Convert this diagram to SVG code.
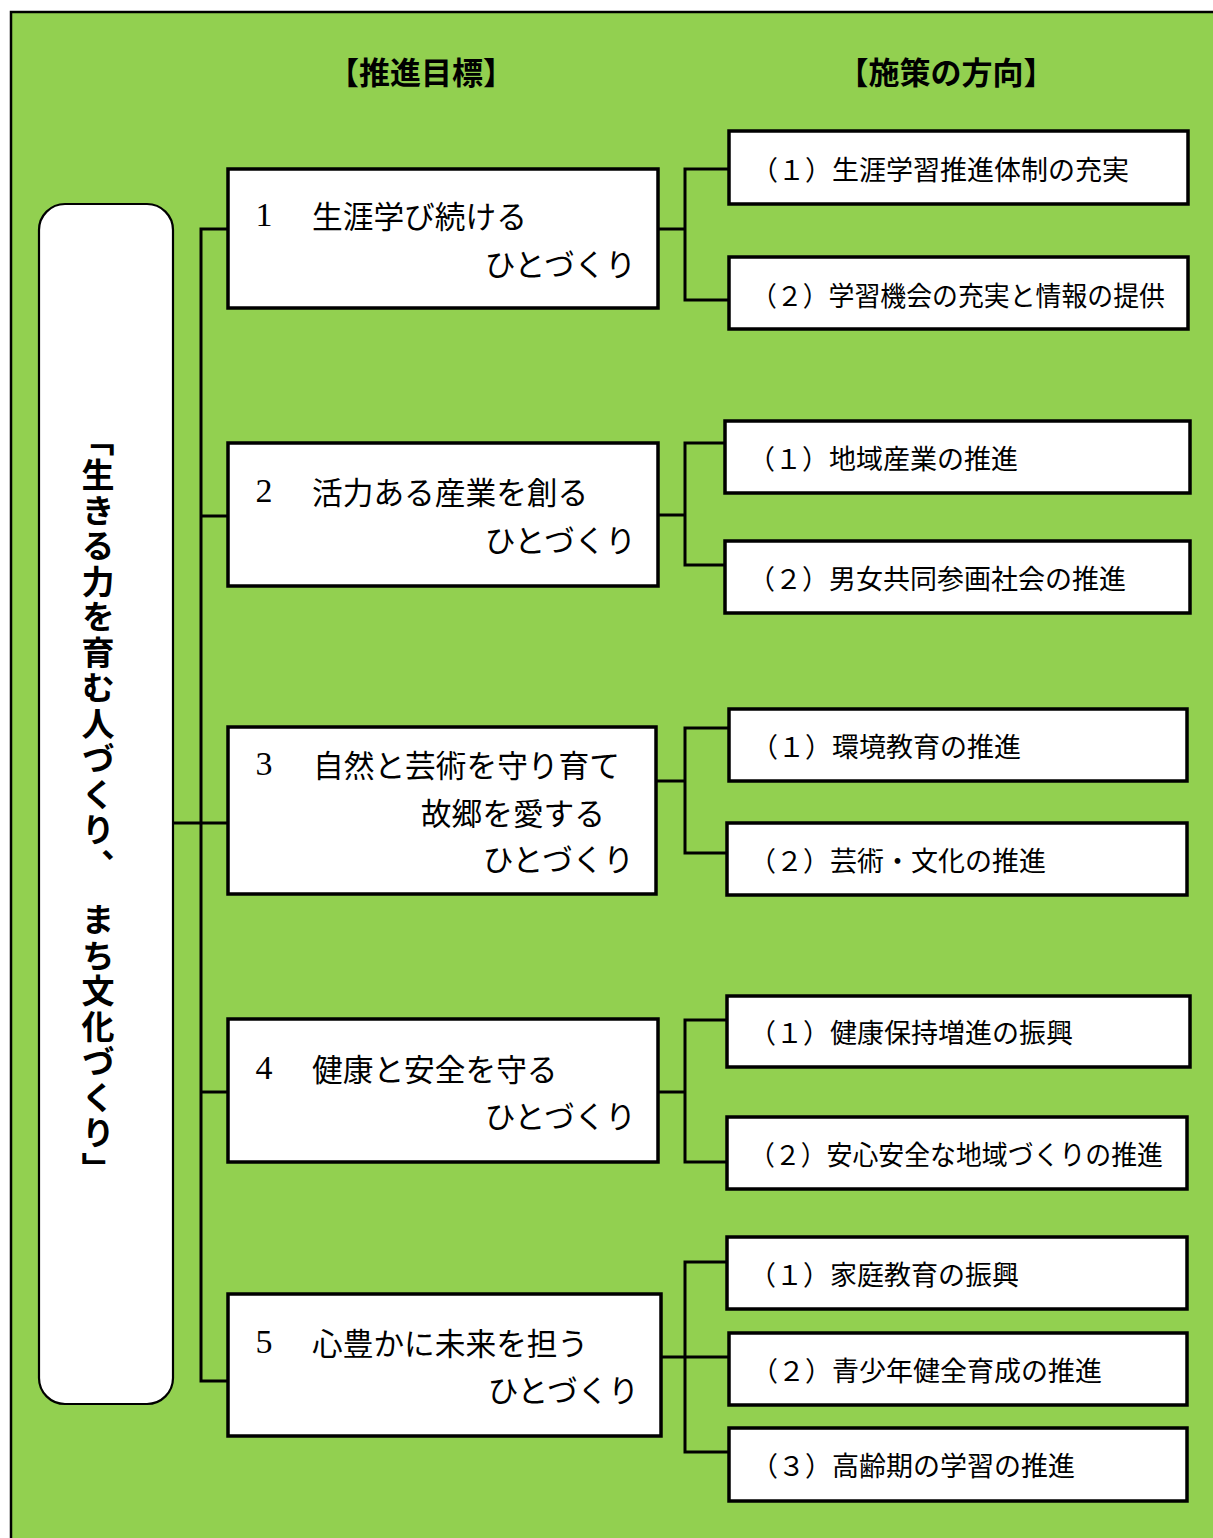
<svg xmlns="http://www.w3.org/2000/svg" width="1213" height="1538" viewBox="0 0 1213 1538">
<style>
.box{fill:#fff;stroke:#000;stroke-width:3.5}
.ln{fill:none;stroke:#000;stroke-width:3;stroke-linecap:square}
.jp{font-family:"Noto Sans CJK JP","Noto Sans CJK SC",sans-serif;fill:#000;dominant-baseline:central}
.goal{font-size:30.7px}
.pol{font-size:27px}
.num{font-family:"Liberation Serif",serif;font-size:34px;text-anchor:middle;dominant-baseline:central}
.hd{font-size:31px;font-weight:bold;text-anchor:middle}
</style>
<rect x="0" y="0" width="1213" height="1538" fill="#fff"/>
<rect x="11" y="12" width="1230" height="1560" fill="#92D050" stroke="#000" stroke-width="2.5"/>
<text class="jp hd" x="421" y="70">【推進目標】</text>
<text class="jp hd" x="946" y="70">【施策の方向】</text>
<g id="connectors">
<path class="ln" d="M201 229 V1381 M201 229 H228 M201 516 H228 M201 1092 H228 M201 1381 H228 M173 823 H228"/>
<path class="ln" d="M658 229 H685 M685 169 V300 M685 169 H729 M685 300 H729"/>
<path class="ln" d="M658 515 H685 M685 443 V565 M685 443 H725 M685 565 H725"/>
<path class="ln" d="M656 781 H685 M685 728 V853 M685 728 H729 M685 853 H727"/>
<path class="ln" d="M658 1092 H685 M685 1020 V1162 M685 1020 H727 M685 1162 H727"/>
<path class="ln" d="M661 1357 H729 M685 1262 V1452 M685 1262 H727 M685 1452 H729"/>
</g>
<g id="root">
<rect x="39" y="204" width="134" height="1200" rx="26" ry="26" fill="#fff" stroke="#000" stroke-width="2.2"/>
<text x="98" y="805" style="writing-mode:vertical-rl;letter-spacing:2.5px" text-anchor="middle" font-family="Noto Sans CJK JP, sans-serif" font-weight="bold" font-size="33">「生きる力を育む人づくり、　まち文化づくり」</text>
</g>
<g id="goal1">
<rect class="box" x="228" y="169" width="430" height="139"/>
<text class="num" x="264" y="214">1</text>
<text class="jp goal" x="312" y="214">生涯学び続ける</text>
<text class="jp goal" x="636" y="262" text-anchor="end">ひとづくり</text>
</g>
<g id="goal2">
<rect class="box" x="228" y="443" width="430" height="143"/>
<text class="num" x="264" y="490">2</text>
<text class="jp goal" x="312" y="490">活力ある産業を創る</text>
<text class="jp goal" x="636" y="538" text-anchor="end">ひとづくり</text>
</g>
<g id="goal3">
<rect class="box" x="228" y="727" width="428" height="167"/>
<text class="num" x="264" y="763">3</text>
<text class="jp goal" x="313" y="763">自然と芸術を守り育て</text>
<text class="jp goal" x="605" y="811" text-anchor="end">故郷を愛する</text>
<text class="jp goal" x="634" y="857" text-anchor="end">ひとづくり</text>
</g>
<g id="goal4">
<rect class="box" x="228" y="1019" width="430" height="143"/>
<text class="num" x="264" y="1067">4</text>
<text class="jp goal" x="312" y="1067">健康と安全を守る</text>
<text class="jp goal" x="636" y="1114" text-anchor="end">ひとづくり</text>
</g>
<g id="goal5">
<rect class="box" x="228" y="1294" width="433" height="142"/>
<text class="num" x="264" y="1341">5</text>
<text class="jp goal" x="312" y="1341">心豊かに未来を担う</text>
<text class="jp goal" x="639" y="1388" text-anchor="end">ひとづくり</text>
</g>
<g id="p1-1"><rect class="box" x="729" y="131" width="459" height="73"/><text class="jp pol" x="751" y="168">（１）生涯学習推進体制の充実</text></g>
<g id="p1-2"><rect class="box" x="729" y="257" width="459" height="72"/><text class="jp pol" x="751" y="294" textLength="414" lengthAdjust="spacingAndGlyphs">（２）学習機会の充実と情報の提供</text></g>
<g id="p2-1"><rect class="box" x="725" y="421" width="465" height="72"/><text class="jp pol" x="748" y="457">（１）地域産業の推進</text></g>
<g id="p2-2"><rect class="box" x="725" y="541" width="465" height="72"/><text class="jp pol" x="748" y="577">（２）男女共同参画社会の推進</text></g>
<g id="p3-1"><rect class="box" x="729" y="709" width="458" height="72"/><text class="jp pol" x="751" y="745">（１）環境教育の推進</text></g>
<g id="p3-2"><rect class="box" x="727" y="823" width="460" height="72"/><text class="jp pol" x="749" y="859">（２）芸術・文化の推進</text></g>
<g id="p4-1"><rect class="box" x="727" y="996" width="463" height="71"/><text class="jp pol" x="749" y="1031">（１）健康保持増進の振興</text></g>
<g id="p4-2"><rect class="box" x="727" y="1117" width="460" height="72"/><text class="jp pol" x="749" y="1153" textLength="414" lengthAdjust="spacingAndGlyphs">（２）安心安全な地域づくりの推進</text></g>
<g id="p5-1"><rect class="box" x="727" y="1237" width="460" height="72"/><text class="jp pol" x="749" y="1273">（１）家庭教育の振興</text></g>
<g id="p5-2"><rect class="box" x="729" y="1333" width="458" height="72"/><text class="jp pol" x="751" y="1369">（２）青少年健全育成の推進</text></g>
<g id="p5-3"><rect class="box" x="729" y="1428" width="458" height="73"/><text class="jp pol" x="751" y="1464">（３）高齢期の学習の推進</text></g>
</svg>
